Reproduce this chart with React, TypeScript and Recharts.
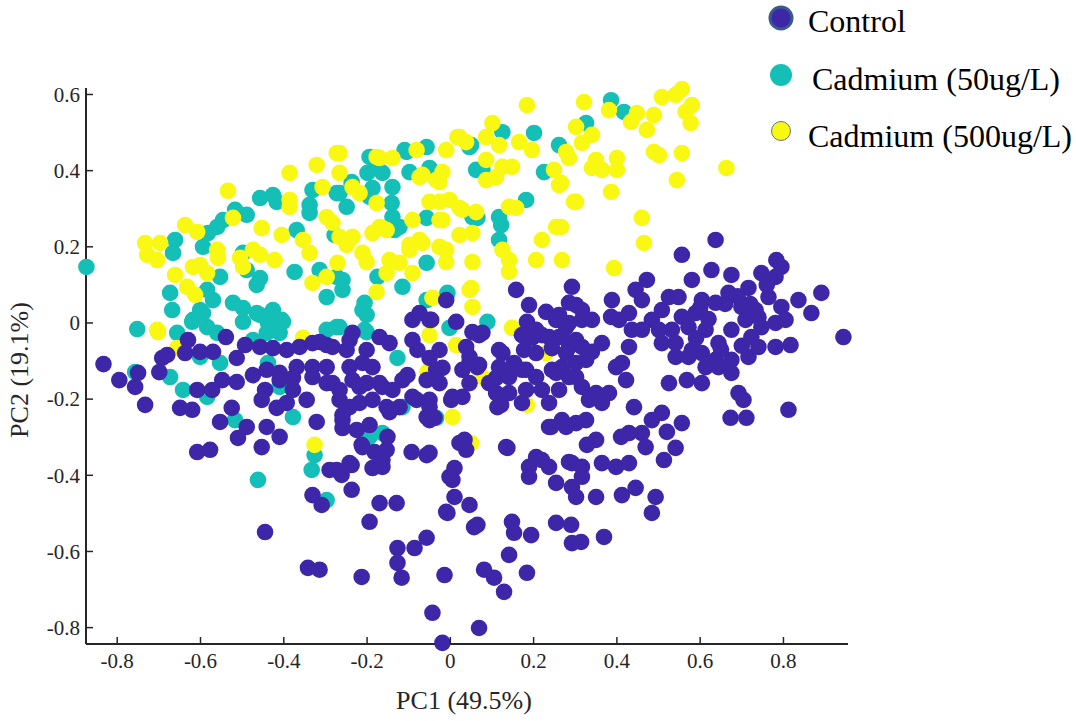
import { Legend, Scatter, ScatterChart, XAxis, YAxis } from "recharts";

type Pt = [number, number];

const xTicks = [-0.8, -0.6, -0.4, -0.2, 0, 0.2, 0.4, 0.6, 0.8];
const yTicks = [-0.8, -0.6, -0.4, -0.2, 0, 0.2, 0.4, 0.6];

const seriesNames = ["Control", "Cadmium (50ug/L)", "Cadmium (500ug/L)"];

// PC1, PC2 scores
const controlPts: Pt[] = [
  [-0.833, -0.108], [-0.795, -0.15], [-0.757, -0.168], [-0.75, -0.131], [-0.733, -0.215], [-0.699, -0.129], [-0.692, -0.092], [-0.68, -0.084], [-0.649, -0.223], [-0.62, -0.228],
  [-0.63, -0.045], [-0.637, -0.079], [-0.601, -0.076], [-0.57, -0.076], [-0.539, -0.037], [-0.608, -0.176], [-0.572, -0.176], [-0.548, -0.15], [-0.513, -0.092], [-0.493, -0.058],
  [-0.457, -0.063], [-0.426, -0.066], [-0.393, -0.071], [-0.362, -0.063], [-0.331, -0.053], [-0.297, -0.058], [-0.525, -0.223], [-0.553, -0.26], [-0.51, -0.302], [-0.489, -0.273],
  [-0.513, -0.155], [-0.474, -0.137], [-0.441, -0.123], [-0.41, -0.131], [-0.378, -0.144], [-0.445, -0.176], [-0.453, -0.202], [-0.417, -0.223], [-0.393, -0.21], [-0.441, -0.273],
  [-0.41, -0.299], [-0.453, -0.326], [-0.608, -0.339], [-0.577, -0.333], [-0.345, -0.202], [-0.321, -0.26], [-0.331, -0.116], [-0.297, -0.116], [-0.331, -0.452], [-0.29, -0.386],
  [-0.261, -0.399], [-0.237, -0.373], [-0.309, -0.478], [-0.237, -0.438], [-0.17, -0.473], [-0.129, -0.473], [-0.194, -0.522], [-0.213, -0.32], [-0.182, -0.339], [-0.153, -0.333],
  [-0.187, -0.381], [-0.163, -0.36], [-0.194, -0.268], [-0.151, -0.299], [-0.259, -0.276], [-0.259, -0.242], [-0.218, -0.21], [-0.187, -0.202], [-0.146, -0.234], [-0.266, -0.202],
  [-0.283, -0.158], [-0.235, -0.026], [-0.17, -0.037], [-0.146, -0.053], [-0.201, -0.071], [-0.249, -0.071], [-0.187, -0.116], [-0.235, -0.15], [-0.201, -0.158], [-0.17, -0.158],
  [-0.139, -0.176], [-0.314, -0.05], [-0.283, -0.063], [-0.331, -0.142], [-0.297, -0.158], [-0.369, -0.116], [-0.378, -0.176], [-0.41, -0.15], [-0.342, -0.643], [-0.314, -0.648],
  [-0.445, -0.549], [-0.213, -0.667], [-0.127, -0.591], [-0.127, -0.63], [-0.117, -0.669], [-0.086, -0.591], [-0.057, -0.564], [-0.014, -0.662], [-0.043, -0.761], [-0.019, -0.84],
  [0.069, -0.801], [-0.091, 0.008], [-0.05, 0.008], [0.014, 0.003], [-0.091, -0.045], [-0.026, -0.071], [-0.103, -0.137], [-0.057, -0.15], [-0.019, -0.118], [-0.091, -0.194],
  [-0.05, -0.202], [0.002, -0.202], [0.029, -0.194], [-0.057, -0.247], [-0.038, -0.249], [0.022, -0.315], [0.034, -0.307], [-0.093, -0.339], [-0.057, -0.347], [0.01, -0.381],
  [0.005, -0.412], [0.01, -0.457], [0.046, -0.478], [-0.01, -0.496], [0.057, -0.536],
  [0.158, 0.087], [0.189, 0.047], [0.23, 0.029], [0.261, 0.021], [0.292, 0.095], [0.302, 0.047], [0.316, 0.008], [0.184, 0.003], [0.172, -0.032], [0.196, -0.039],
  [0.22, -0.032], [0.261, -0.037], [0.285, 0.0], [0.177, -0.071], [0.206, -0.079], [0.244, -0.066], [0.285, -0.063], [0.316, -0.063], [0.153, -0.105], [0.182, -0.123],
  [0.206, -0.142], [0.244, -0.123], [0.268, -0.116], [0.302, -0.142], [0.125, -0.079], [0.117, -0.116], [0.11, -0.144], [0.141, -0.142], [0.093, -0.158], [0.069, -0.11],
  [0.046, -0.105], [0.029, -0.123], [0.053, -0.024], [0.077, -0.026], [0.038, -0.063], [-0.05, -0.092], [-0.034, -0.123], [-0.026, -0.158], [-0.01, 0.06], [-0.074, 0.026],
  [-0.046, 0.008], [-0.079, -0.071], [-0.115, -0.15], [-0.081, -0.202], [-0.05, -0.221], [-0.05, -0.255], [0.005, -0.194], [0.046, -0.158], [0.113, -0.221], [0.141, -0.184],
  [0.172, -0.21], [0.182, -0.176], [0.22, -0.176], [0.237, -0.21], [0.261, -0.176], [0.237, -0.273], [0.268, -0.255], [0.302, -0.263], [0.326, -0.255], [0.134, -0.326],
  [0.038, -0.333], [-0.211, -0.326], [-0.242, -0.368], [-0.273, -0.386], [-0.002, -0.404], [0.189, -0.378], [0.206, -0.352], [0.237, -0.378], [0.285, -0.365], [0.316, -0.378],
  [-0.163, -0.378], [-0.242, -0.045], [-0.211, -0.105], [-0.242, -0.116], [-0.266, -0.176], [-0.218, -0.168], [-0.163, -0.168], [-0.153, -0.221], [-0.122, -0.221], [-0.242, -0.221],
  [-0.259, -0.255], [-0.225, -0.281],
  [0.637, 0.218], [0.556, 0.179], [0.472, 0.113], [0.445, 0.087], [0.46, 0.06], [0.429, 0.026], [0.388, 0.06], [0.386, 0.016], [0.525, 0.068], [0.548, 0.068],
  [0.58, 0.113], [0.627, 0.139], [0.675, 0.126], [0.747, 0.131], [0.783, 0.165], [0.795, 0.147], [0.781, 0.121], [0.716, 0.092], [0.668, 0.079], [0.637, 0.053],
  [0.604, 0.06], [0.589, 0.026], [0.556, 0.016], [0.508, 0.034], [0.484, 0.008], [0.46, -0.018], [0.501, -0.018], [0.532, -0.018], [0.572, -0.011], [0.613, -0.018],
  [0.644, -0.053], [0.675, -0.018], [0.709, 0.008], [0.699, 0.042], [0.733, 0.034], [0.764, 0.068], [0.795, 0.042], [0.805, 0.008], [0.781, 0.0], [0.747, -0.011],
  [0.723, -0.037], [0.74, -0.063], [0.716, -0.089], [0.781, -0.063], [0.817, -0.058], [0.836, 0.06], [0.867, 0.026], [0.891, 0.079], [0.944, -0.037], [0.508, -0.053],
  [0.541, -0.053], [0.541, -0.089], [0.58, -0.071], [0.604, -0.079], [0.637, -0.097], [0.675, -0.097], [0.675, -0.131], [0.644, -0.116], [0.613, -0.116], [0.572, -0.089],
  [0.525, -0.158], [0.568, -0.15], [0.604, -0.158], [0.692, -0.184], [0.704, -0.202], [0.673, -0.249], [0.711, -0.249], [0.812, -0.228], [0.429, -0.063], [0.436, -0.018],
  [0.405, 0.008], [0.364, -0.053], [0.34, -0.076], [0.412, -0.105], [0.422, -0.15], [0.398, -0.116], [0.285, 0.053], [0.316, 0.034], [0.34, 0.008], [0.278, -0.011],
  [0.254, 0.008], [0.206, -0.018], [0.237, -0.037], [0.268, -0.037], [0.302, -0.045], [0.278, -0.079], [0.302, -0.105], [0.326, -0.097], [0.254, -0.131], [0.285, -0.142],
  [0.316, -0.168], [0.35, -0.184], [0.381, -0.184], [0.333, -0.202], [0.364, -0.21], [0.441, -0.221], [0.508, -0.236], [0.556, -0.263], [0.484, -0.255], [0.52, -0.286],
  [0.46, -0.289], [0.429, -0.289], [0.41, -0.299], [0.469, -0.326], [0.541, -0.328], [0.513, -0.36], [0.493, -0.457], [0.484, -0.499], [0.35, -0.307], [0.328, -0.32],
  [0.278, -0.273], [0.242, -0.273], [0.364, -0.368], [0.398, -0.378], [0.429, -0.368], [0.412, -0.452], [0.445, -0.433], [0.35, -0.457], [0.302, -0.457], [0.292, -0.368],
  [0.316, -0.404], [0.292, -0.431], [0.22, -0.36], [0.189, -0.404], [0.254, -0.42], [0.254, -0.525], [0.29, -0.53], [0.292, -0.578], [0.314, -0.575], [0.369, -0.562],
  [0.148, -0.522], [0.153, -0.551], [0.194, -0.557], [0.141, -0.609], [0.184, -0.656], [0.081, -0.648], [0.105, -0.669], [0.129, -0.706], [0.065, -0.53], [-0.007, -0.499],
  [0.137, -0.328], [0.122, -0.215], [0.11, -0.184], [0.065, -0.116], [0.046, -0.089], [0.117, -0.071], [0.141, -0.123], [0.172, -0.123], [0.069, -0.032], [-0.05, -0.341],
  [0.6, 0.04], [0.62, 0.01], [0.66, 0.05], [0.69, 0.07], [0.72, 0.05], [0.76, 0.1], [0.74, 0.015], [0.65, -0.07], [0.59, -0.04], [0.7, -0.06],
];

const cd50Pts: Pt[] = [
  [-0.874, 0.147], [-0.752, -0.016], [-0.661, 0.218], [-0.666, 0.184], [-0.673, 0.079], [-0.668, 0.034], [-0.594, 0.2], [-0.582, 0.236], [-0.56, 0.252], [-0.546, 0.27],
  [-0.517, 0.297], [-0.489, 0.284], [-0.457, 0.328], [-0.426, 0.336], [-0.417, 0.318], [-0.553, 0.121], [-0.584, 0.087], [-0.57, 0.06], [-0.601, 0.034], [-0.618, 0.008],
  [-0.656, -0.026], [-0.522, 0.053], [-0.498, 0.039], [-0.498, 0.003], [-0.465, 0.026], [-0.426, 0.034], [-0.438, 0.0], [-0.405, 0.008], [-0.457, 0.118], [-0.465, 0.1],
  [-0.498, 0.184], [-0.489, 0.139], [-0.374, 0.134], [-0.369, 0.244], [-0.338, 0.31], [-0.338, 0.289], [-0.331, 0.349], [-0.314, 0.139], [-0.297, 0.068], [-0.273, 0.341],
  [-0.273, 0.121], [-0.259, 0.113], [-0.259, 0.087], [-0.249, 0.305], [-0.237, 0.37], [-0.206, 0.053], [-0.211, 0.034], [-0.194, 0.436], [-0.177, 0.407], [-0.163, 0.394],
  [-0.187, 0.354], [-0.194, 0.331], [-0.139, 0.357], [-0.139, 0.278], [-0.122, 0.252], [-0.175, 0.121], [-0.115, 0.095], [-0.11, 0.454], [-0.098, 0.396], [-0.057, 0.462],
  [-0.05, 0.407], [-0.057, 0.158], [-0.01, 0.068], [-0.057, 0.06], [0.046, 0.462], [0.062, 0.402], [0.053, 0.278], [-0.199, 0.394], [-0.105, 0.449], [-0.237, 0.362],
  [-0.266, 0.341], [-0.141, 0.315], [-0.134, 0.244], [-0.278, 0.231], [-0.057, 0.276], [0.065, 0.276], [0.117, 0.278], [0.122, 0.257], [0.117, 0.218], [0.182, 0.323],
  [0.05, 0.467], [0.125, 0.501], [0.201, 0.499], [0.261, 0.467], [0.225, 0.396], [0.077, 0.402], [0.326, 0.525], [0.386, 0.585], [0.417, 0.554], [-0.007, 0.079],
  [-0.201, 0.021], [-0.266, -0.011], [-0.206, -0.018], [0.089, 0.003], [-0.002, -0.013], [-0.127, -0.092], [-0.115, -0.221], [-0.034, -0.249], [-0.194, -0.299], [-0.163, -0.289],
  [-0.673, -0.142], [-0.757, -0.129], [-0.642, -0.176], [-0.62, 0.003], [-0.594, 0.026], [-0.584, -0.011], [-0.56, -0.026], [-0.553, -0.105], [-0.601, -0.089], [-0.584, -0.194],
  [-0.457, 0.021], [-0.426, -0.011], [-0.402, 0.003], [-0.41, -0.026], [-0.441, -0.026], [-0.474, -0.045], [-0.297, -0.018], [-0.273, -0.011], [-0.378, -0.247], [-0.517, -0.255],
  [-0.41, -0.168], [-0.438, -0.105], [-0.326, -0.347], [-0.333, -0.386], [-0.462, -0.412], [-0.297, -0.465], [-0.201, -0.024],
];

const cd500Pts: Pt[] = [
  [-0.733, 0.21], [-0.728, 0.179], [-0.704, 0.165], [-0.697, 0.21], [-0.637, 0.257], [-0.608, 0.239], [-0.534, 0.347], [-0.522, 0.276], [-0.661, 0.126], [-0.632, 0.095],
  [-0.613, 0.074], [-0.618, 0.147], [-0.601, 0.152], [-0.584, 0.131], [-0.56, 0.192], [-0.558, 0.171], [-0.505, 0.171], [-0.498, 0.147], [-0.474, 0.192], [-0.457, 0.179],
  [-0.453, 0.249], [-0.422, 0.165], [-0.405, 0.231], [-0.386, 0.323], [-0.386, 0.305], [-0.386, 0.394], [-0.354, 0.218], [-0.338, 0.184], [-0.331, 0.105], [-0.297, 0.121],
  [-0.321, 0.415], [-0.307, 0.357], [-0.297, 0.278], [-0.283, 0.263], [-0.273, 0.446], [-0.704, -0.018], [-0.354, -0.039], [-0.17, 0.433], [-0.139, 0.433], [-0.081, 0.454],
  [-0.01, 0.454], [0.022, 0.488], [-0.067, 0.389], [-0.034, 0.375], [-0.019, 0.396], [-0.05, 0.318], [-0.026, 0.318], [-0.002, 0.323], [0.022, 0.302], [-0.091, 0.27],
  [-0.026, 0.27], [-0.235, 0.357], [-0.218, 0.341], [-0.177, 0.315], [-0.17, 0.252], [-0.153, 0.244], [-0.098, 0.192], [-0.067, 0.21], [-0.01, 0.192], [-0.01, 0.16],
  [0.053, 0.16], [-0.211, 0.184], [-0.201, 0.16], [-0.139, 0.16], [-0.122, 0.158], [-0.249, 0.205], [-0.235, 0.226], [-0.091, 0.131], [-0.271, 0.158], [-0.177, 0.081],
  [-0.153, 0.131], [0.046, 0.087], [0.053, 0.042], [-0.043, 0.066], [0.184, 0.572], [0.321, 0.58], [0.101, 0.525], [0.017, 0.488], [0.038, 0.475], [0.086, 0.488],
  [0.117, 0.467], [0.165, 0.475], [0.196, 0.454], [0.285, 0.433], [0.302, 0.515], [0.316, 0.473], [0.086, 0.428], [0.125, 0.41], [0.148, 0.41], [0.086, 0.375],
  [0.11, 0.383], [-0.026, 0.37], [-0.074, 0.383], [-0.177, 0.436], [-0.266, 0.446], [-0.266, 0.394], [0.029, 0.297], [0.062, 0.291], [-0.019, 0.27], [0.022, 0.231],
  [0.053, 0.236], [-0.098, 0.205], [-0.074, 0.218], [-0.026, 0.2], [-0.163, 0.249], [-0.187, 0.236], [-0.242, 0.218], [-0.266, 0.226], [-0.146, 0.165], [0.05, 0.092],
  [0.141, 0.305], [0.158, 0.302], [0.125, 0.192], [0.141, 0.165], [0.141, 0.134], [0.206, 0.165], [0.268, 0.165], [0.22, 0.218], [0.254, 0.252], [0.261, 0.362],
  [0.249, 0.402], [0.302, 0.318], [0.381, 0.559], [0.434, 0.528], [0.448, 0.551], [0.489, 0.546], [0.508, 0.593], [0.541, 0.599], [0.556, 0.614], [0.565, 0.554],
  [0.58, 0.572], [0.577, 0.525], [0.472, 0.507], [0.34, 0.494], [0.278, 0.449], [0.35, 0.428], [0.364, 0.402], [0.34, 0.407], [0.4, 0.433], [0.4, 0.402],
  [0.489, 0.449], [0.501, 0.441], [0.556, 0.446], [0.663, 0.407], [0.544, 0.375], [0.386, 0.344], [0.266, 0.368], [0.297, 0.318], [0.266, 0.252], [0.46, 0.276],
  [0.465, 0.21], [0.393, 0.144], [-0.05, -0.032], [0.014, -0.058], [0.148, -0.013], [-0.05, -0.123], [0.077, -0.142], [0.23, -0.079], [0.184, -0.215], [0.005, -0.247],
  [0.05, -0.315], [-0.702, -0.024], [-0.656, -0.066], [-0.326, -0.32], [-0.055, -0.129],
];

const COLORS = ["#3e26a8", "#14bfb7", "#f8f812"];
const TEXT = "#262626";
const FONT = "'Liberation Serif', 'Times New Roman', Times, serif";

const toRows = (pts: Pt[]) => pts.map(([pc1, pc2]) => ({ pc1, pc2 }));

function Dot(fill: string) {
  return (props: any) => <circle cx={props.cx} cy={props.cy} r={8.3} fill={fill} />;
}

function XTick({ x, y, payload }: any) {
  return (
    <g>
      <line x1={x} y1={y} x2={x} y2={y - 7} stroke={TEXT} strokeWidth={1.5} />
      <text x={x} y={y + 24} textAnchor="middle" fontSize={21} fill={TEXT} fontFamily={FONT}>
        {payload.value}
      </text>
    </g>
  );
}

function YTick({ x, y, payload }: any) {
  return (
    <g>
      <line x1={x} y1={y} x2={x + 7} y2={y} stroke={TEXT} strokeWidth={1.5} />
      <text x={x - 6} y={y} dy="0.35em" textAnchor="end" fontSize={21} fill={TEXT} fontFamily={FONT}>
        {payload.value}
      </text>
    </g>
  );
}

function LegendBox() {
  const items = [
    { cy: 18, r: 11, stroke: "#3a5a8e", sw: 3, textX: 808, base: 32 },
    { cy: 75, r: 11, stroke: "none", sw: 0, textX: 812, base: 90 },
    { cy: 131, r: 9.5, stroke: "#6a7590", sw: 1, textX: 808, base: 147 },
  ];
  return (
    <svg width={1076} height={170} style={{ position: "absolute", left: 0, top: 0 }}>
      {items.map((it, i) => (
        <g key={seriesNames[i]}>
          <circle cx={781} cy={it.cy} r={it.r} fill={COLORS[i]} stroke={it.stroke} strokeWidth={it.sw} />
          <text x={it.textX} y={it.base} fontSize={32} fill="#000" fontFamily={FONT}>
            {seriesNames[i]}
          </text>
        </g>
      ))}
    </svg>
  );
}

export default function App() {
  return (
    <div style={{ position: "fixed", left: 0, top: 0, width: 1076, height: 721, background: "#fff", overflow: "hidden", fontFamily: FONT }}>
      <ScatterChart width={1076} height={721} margin={{ top: 88, right: 228, bottom: 76, left: 85 }}>
        <XAxis
          type="number"
          dataKey="pc1"
          domain={[-0.875, 0.955]}
          ticks={xTicks}
          height={1}
          tickSize={0}
          tickMargin={0}
          tickLine={false}
          axisLine={{ stroke: TEXT, strokeWidth: 2 }}
          tick={<XTick />}
          interval={0}
        />
        <YAxis
          type="number"
          dataKey="pc2"
          domain={[-0.843, 0.617]}
          ticks={yTicks}
          width={1}
          tickSize={0}
          tickMargin={0}
          tickLine={false}
          axisLine={{ stroke: TEXT, strokeWidth: 2 }}
          tick={<YTick />}
          interval={0}
        />
        <Scatter name={seriesNames[1]} data={toRows(cd50Pts)} fill={COLORS[1]} shape={Dot(COLORS[1])} isAnimationActive={false} />
        <Scatter name={seriesNames[2]} data={toRows(cd500Pts)} fill={COLORS[2]} shape={Dot(COLORS[2])} isAnimationActive={false} />
        <Scatter name={seriesNames[0]} data={toRows(controlPts)} fill={COLORS[0]} shape={Dot(COLORS[0])} isAnimationActive={false} />
        <Legend
          layout="horizontal"
          verticalAlign="middle"
          align="center"
          content={() => <LegendBox />}
          wrapperStyle={{ left: 0, top: 0, width: 1076, height: 170, position: "absolute" }}
        />
      </ScatterChart>
      <div style={{ position: "absolute", left: 464, top: 714, transform: "translate(-50%, -100%)", fontSize: 26, color: TEXT, whiteSpace: "nowrap", lineHeight: 1 }}>
        PC1 (49.5%)
      </div>
      <div
        style={{ position: "absolute", left: 20, top: 370, transform: "translate(-50%, -50%) rotate(-90deg)", fontSize: 26, color: TEXT, whiteSpace: "nowrap", lineHeight: 1 }}
      >
        PC2 (19.1%)
      </div>
    </div>
  );
}
